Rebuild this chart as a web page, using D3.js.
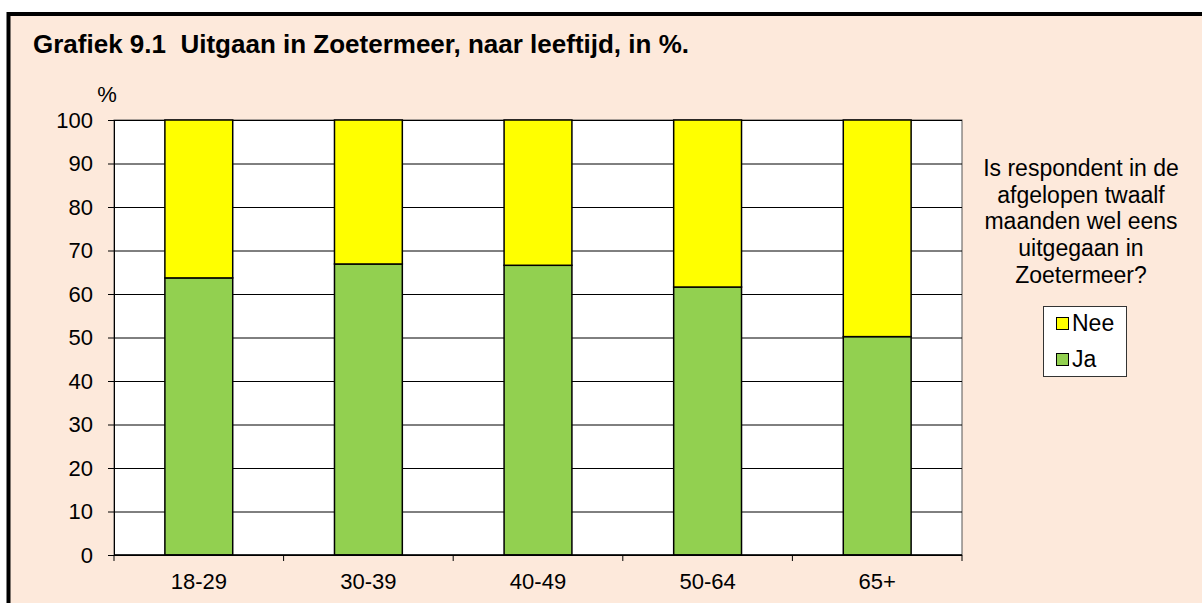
<!DOCTYPE html>
<html>
<head>
<meta charset="utf-8">
<script src="https://cdn.jsdelivr.net/npm/d3@7"></script>
<style>
  body { margin: 0; background: #fff; }
  svg { display: block; font-family: Arial, "Liberation Sans", sans-serif; }
</style>
</head>
<body>
<svg width="1202" height="603"></svg>
<script>
const CATEGORIES = ['18-29', '30-39', '40-49', '50-64', '65+'];
const JA = [63.7, 66.9, 66.6, 61.6, 50.2];
const NEE = JA.map((v) => 100 - v);
const Y_TICKS = [0, 10, 20, 30, 40, 50, 60, 70, 80, 90, 100];
const SERIES = ['Nee', 'Ja'];
const COLORS = { Ja: '#92d050', Nee: '#ffff00' };
const LEGEND_TITLE = ['Is respondent in de', 'afgelopen twaalf', 'maanden wel eens', 'uitgegaan in', 'Zoetermeer?'];

let svg = d3.select('svg');
let fontSize = 22;

// frame
svg.append('rect')
  .attr('x', 8.5).attr('y', 14)
  .attr('width', 1202).attr('height', 600)
  .attr('fill', '#fde9db')
  .attr('stroke', '#000')
  .attr('stroke-width', 4);

svg.append('text')
  .attr('x', 33).attr('y', 53)
  .attr('font-size', 26).attr('font-weight', 'bold')
  .style('white-space', 'pre')
  .text('Grafiek 9.1  Uitgaan in Zoetermeer, naar leeftijd, in %.');

let plot = {left: 114, right: 962, top: 120, bottom: 555};

let x = d3.scaleBand().domain(CATEGORIES)
  .range([plot.left, plot.right])
  .paddingInner(0.6).paddingOuter(0.3);
let xTick = d3.scaleBand().domain(CATEGORIES).range([plot.left, plot.right]);
let y = d3.scaleLinear().domain([0, 100]).range([plot.bottom, plot.top]);

svg.append('rect')
  .attr('x', plot.left).attr('y', plot.top)
  .attr('width', plot.right - plot.left).attr('height', plot.bottom - plot.top)
  .attr('fill', '#fff')
  .attr('stroke', '#555').attr('stroke-width', 1);

// grid
svg.append('g')
  .attr('transform', `translate(${plot.left},0)`)
  .call(d3.axisRight(y).tickValues(Y_TICKS).tickSize(plot.right - plot.left).tickFormat(''))
  .call((g) => g.select('.domain').remove())
  .selectAll('line').attr('stroke', '#000').attr('stroke-width', 1);

// y axis
let yAxis = svg.append('g')
  .attr('transform', `translate(${plot.left},0)`)
  .call(d3.axisLeft(y).tickValues(Y_TICKS).tickSize(6).tickPadding(15).tickSizeOuter(0));
yAxis.attr('font-size', fontSize).attr('font-family', null);
yAxis.selectAll('text').attr('fill', '#000');
yAxis.select('.domain').attr('stroke', '#000');

svg.append('text')
  .attr('x', 107).attr('y', 102)
  .attr('text-anchor', 'middle')
  .attr('font-size', fontSize)
  .text('%');

// stacked bars
let stackData = CATEGORIES.map((c, i) => ({cat: c, Ja: JA[i], Nee: NEE[i]}));
let stack = d3.stack().keys(['Ja', 'Nee'])(stackData);

svg.append('g').selectAll('g')
  .data(stack)
  .join('g')
  .attr('fill', (s) => COLORS[s.key])
  .selectAll('rect')
  .data((s) => s)
  .join('rect')
  .attr('x', (d) => x(d.data.cat))
  .attr('y', (d) => y(d[1]))
  .attr('width', x.bandwidth())
  .attr('height', (d) => y(d[0]) - y(d[1]))
  .attr('stroke', '#000')
  .attr('stroke-width', 1.5);

// x axis
let xAxis = svg.append('g')
  .attr('transform', `translate(0,${plot.bottom})`)
  .call(d3.axisBottom(xTick).tickSize(0).tickPadding(18));
xAxis.attr('font-size', fontSize).attr('font-family', null);
xAxis.selectAll('text').attr('fill', '#000');
xAxis.select('.domain').remove();
xAxis.append('line')
  .attr('x1', plot.left).attr('x2', plot.right)
  .attr('stroke', '#000').attr('stroke-width', 1.5);
xAxis.selectAll('.sep')
  .data(CATEGORIES.concat([null]))
  .join('line')
  .attr('class', 'sep')
  .attr('x1', (d, i) => i < CATEGORIES.length ? xTick(d) : plot.right)
  .attr('x2', (d, i) => i < CATEGORIES.length ? xTick(d) : plot.right)
  .attr('y1', 0).attr('y2', 6)
  .attr('stroke', '#000');

// legend
let legendTitle = svg.append('text')
  .attr('text-anchor', 'middle')
  .attr('font-size', 23);
legendTitle.selectAll('tspan')
  .data(LEGEND_TITLE)
  .join('tspan')
  .attr('x', 1081)
  .attr('y', (d, i) => 176 + i * 26.7)
  .text((d) => d);

svg.append('rect')
  .attr('x', 1043.5).attr('y', 306.5)
  .attr('width', 83).attr('height', 70)
  .attr('fill', '#fff')
  .attr('stroke', '#333');

let items = svg.append('g').selectAll('g')
  .data(SERIES)
  .join('g')
  .attr('transform', (d, i) => `translate(1056,${317 + i * 36})`);
items.append('rect')
  .attr('x', 0.5).attr('y', 0.5)
  .attr('width', 12).attr('height', 12)
  .attr('fill', (d) => COLORS[d])
  .attr('stroke', '#000');
items.append('text')
  .attr('x', 16).attr('y', 13.5)
  .attr('font-size', 23)
  .text((d) => d);
</script>
</body>
</html>
